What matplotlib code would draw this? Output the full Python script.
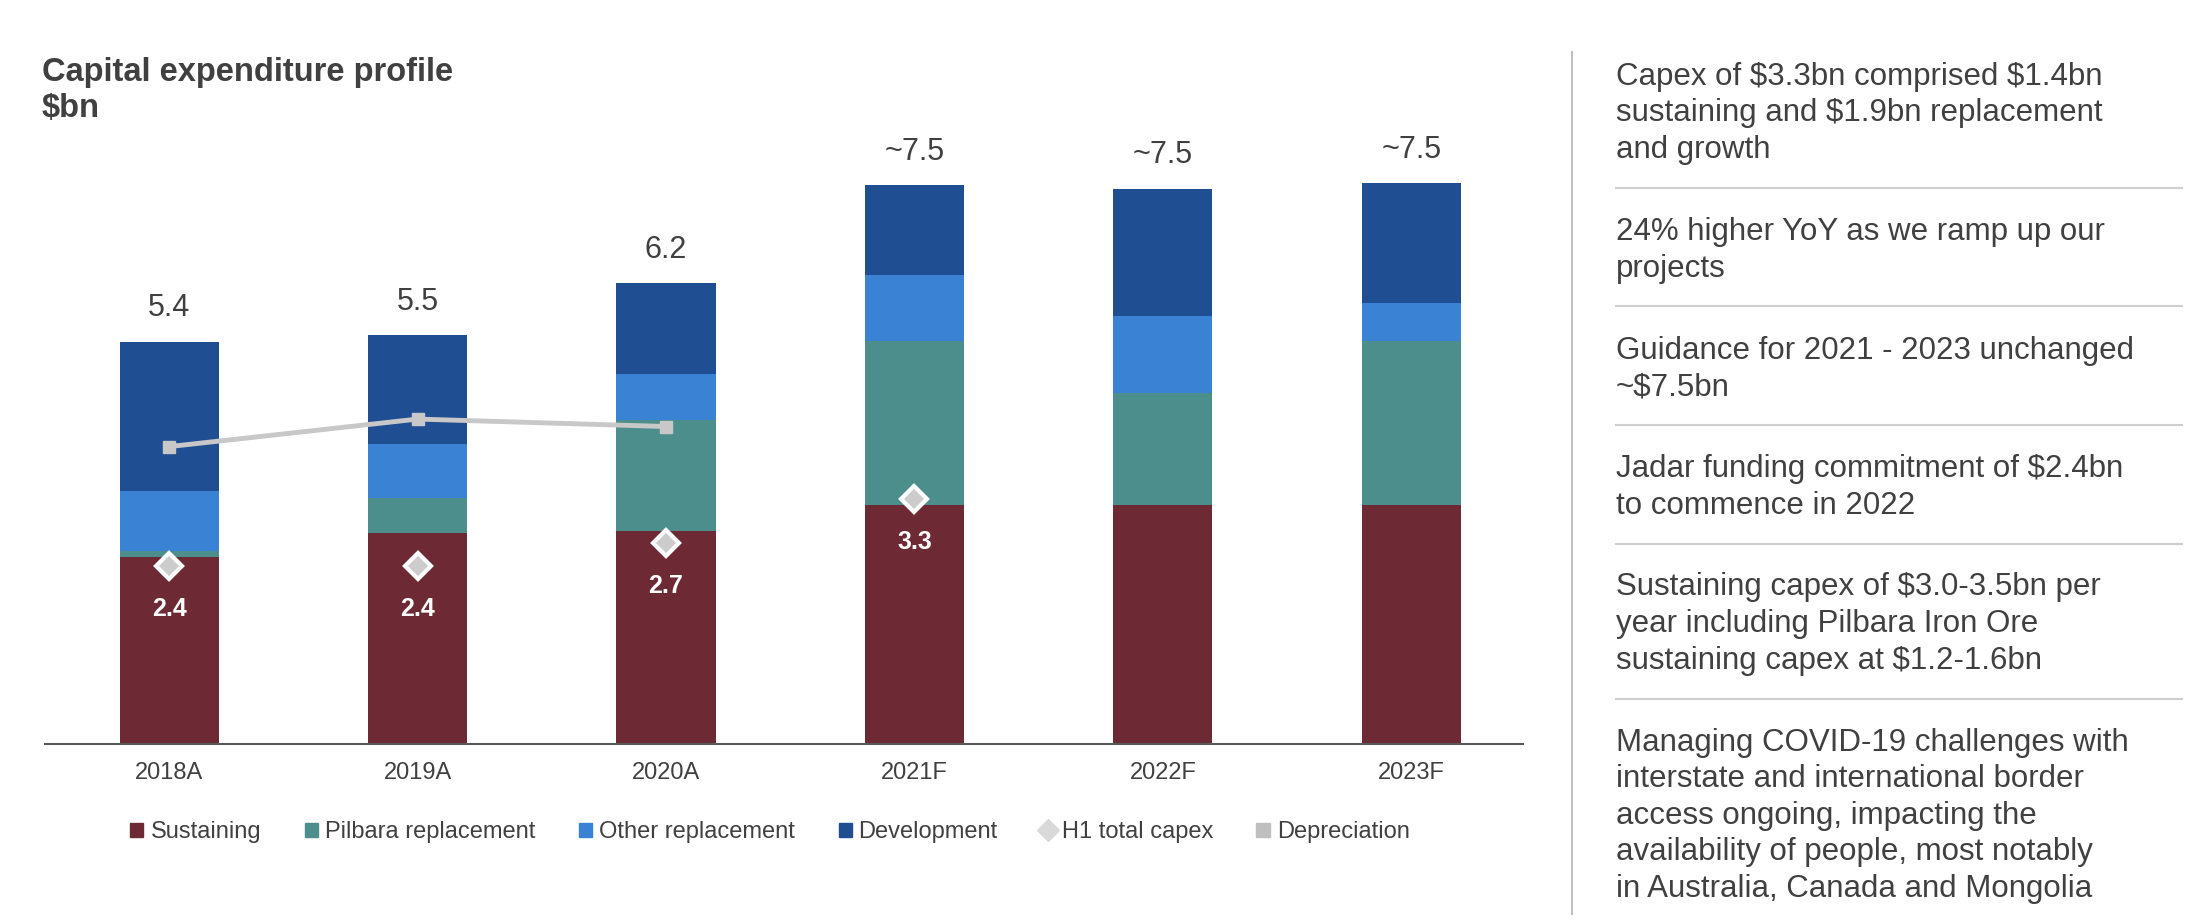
import matplotlib
matplotlib.use("Agg")
import matplotlib.pyplot as plt
from matplotlib.lines import Line2D
from matplotlib.patches import Patch
import numpy as np

plt.rcParams['font.family'] = ['Liberation Sans', 'DejaVu Sans']

# data ($bn)
years = ['2018A', '2019A', '2020A', '2021F', '2022F', '2023F']
sustaining = [2.52, 2.84, 2.86, 3.22, 3.22, 3.22]
pilbara = [0.08, 0.47, 1.50, 2.20, 1.50, 2.20]
other_repl = [0.80, 0.72, 0.61, 0.89, 1.04, 0.51]
development = [2.01, 1.47, 1.23, 1.21, 1.71, 1.61]
total_labels = ['5.4', '5.5', '6.2', '~7.5', '~7.5', '~7.5']
h1_capex = [2.4, 2.4, 2.7, 3.3]
h1_labels = ['2.4', '2.4', '2.7', '3.3']
depreciation = [4.0, 4.37, 4.27]

notes = [
    "Capex of $3.3bn comprised $1.4bn\nsustaining and $1.9bn replacement\nand growth",
    "24% higher YoY as we ramp up our\nprojects",
    "Guidance for 2021 - 2023 unchanged\n~$7.5bn",
    "Jadar funding commitment of $2.4bn\nto commence in 2022",
    "Sustaining capex of $3.0-3.5bn per\nyear including Pilbara Iron Ore\nsustaining capex at $1.2-1.6bn",
    "Managing COVID-19 challenges with\ninterstate and international border\naccess ongoing, impacting the\navailability of people, most notably\nin Australia, Canada and Mongolia",
]

c_sus = '#6d2a34'
c_pil = '#4b8e8c'
c_oth = '#3a82d4'
c_dev = '#1f4e92'
c_text = '#404040'

W, H = 2212, 922
fig = plt.figure(figsize=(W / 100, H / 100), dpi=100)
ax = fig.add_axes([45 / W, 1 - 744 / H, 1478 / W, 632 / H])

x = np.arange(len(years))
bw = 0.40
bottom = np.zeros(len(years))
for vals, col in [(sustaining, c_sus), (pilbara, c_pil), (other_repl, c_oth), (development, c_dev)]:
    ax.bar(x, vals, bw, bottom=bottom, color=col, edgecolor='none', zorder=2)
    bottom += np.array(vals)

for xi, tot, lab in zip(x, bottom, total_labels):
    ax.annotate(lab, (xi, tot), xytext=(0, 24), textcoords='offset points',
                ha='center', va='center', fontsize=22, color=c_text)

# depreciation line
xd = x[:len(depreciation)]
ax.plot(xd, depreciation, color='#c8c8c8', lw=3.5, marker='s', ms=9, zorder=3)

# H1 total capex diamonds
xh = x[:len(h1_capex)]
ax.plot(xh, h1_capex, ls='none', marker='D', ms=13, mfc='#cccccc', mec='white', mew=3, zorder=4)
for xi, v, lab in zip(xh, h1_capex, h1_labels):
    ax.annotate(lab, (xi, v), xytext=(0, -31), textcoords='offset points',
                ha='center', va='center', fontsize=18, fontweight='bold', color='white', zorder=5)

ax.set_xlim(-0.5, 5.45)
ax.set_ylim(0, 8.5)
ax.set_xticks(x)
ax.set_xticklabels(years, fontsize=17, color=c_text)
ax.tick_params(axis='x', length=0, pad=13)
ax.set_yticks([])
for s in ['left', 'right', 'top']:
    ax.spines[s].set_visible(False)
ax.spines['bottom'].set_color('#595959')
ax.spines['bottom'].set_linewidth(1.5)

handles = [
    Patch(color=c_sus, label='Sustaining'),
    Patch(color=c_pil, label='Pilbara replacement'),
    Patch(color=c_oth, label='Other replacement'),
    Patch(color=c_dev, label='Development'),
    Line2D([], [], ls='none', marker='D', ms=11, color='#d9d9d9', label='H1 total capex'),
    Line2D([], [], ls='none', marker='s', ms=10, color='#bfbfbf', label='Depreciation'),
]
leg = fig.legend(handles=handles, loc='center', bbox_to_anchor=(770 / W, 1 - 832 / H), ncol=6,
                 frameon=False, fontsize=17, handlelength=0.55, handleheight=0.55,
                 handletextpad=0.3, columnspacing=1.85)
for t in leg.get_texts():
    t.set_color(c_text)

# title
fig.text(42 / W, 1 - 73 / H, 'Capital expenditure profile', fontsize=23.5, fontweight='bold',
         color=c_text, va='center', ha='left', parse_math=False)
fig.text(42 / W, 1 - 108 / H, '$bn', fontsize=23.5, fontweight='bold',
         color=c_text, va='center', ha='left', parse_math=False)

# right panel
fig.add_artist(Line2D([1572 / W, 1572 / W], [1 - 52 / H, 1 - 914 / H], color='#c0c0c0', lw=1.5))
y = 77
step = 36.5
for i, note in enumerate(notes):
    lines = note.split('\n')
    for j, ln in enumerate(lines):
        fig.text(1616 / W, 1 - (y + j * step) / H, ln, fontsize=22.5, color=c_text,
                 va='center', ha='left', parse_math=False)
    y_last = y + (len(lines) - 1) * step
    if i < len(notes) - 1:
        ys = y_last + 38
        fig.add_artist(Line2D([1616 / W, 2182 / W], [1 - ys / H, 1 - ys / H], color='#cfcfcf', lw=1.5))
        y = ys + 44

fig.savefig('out.png', dpi=100)
